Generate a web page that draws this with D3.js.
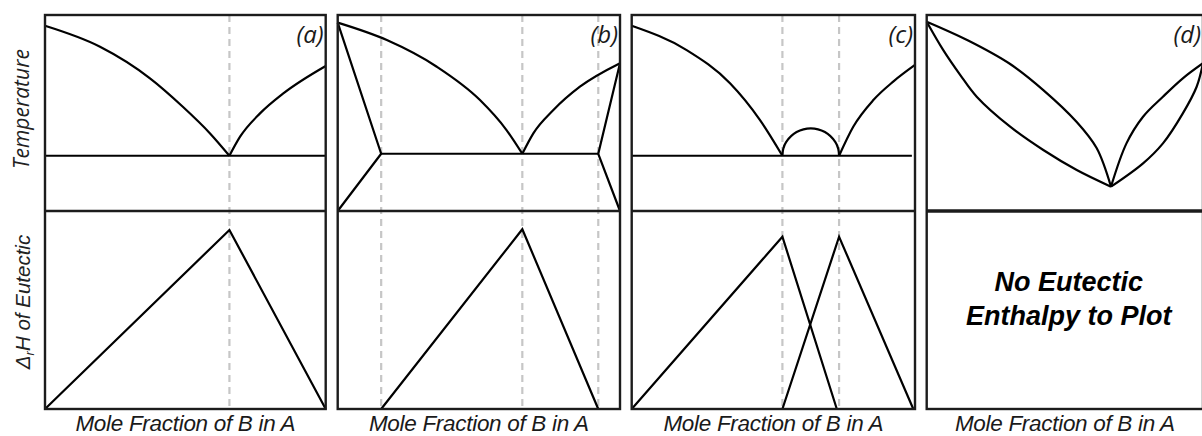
<!DOCTYPE html>
<html>
<head>
<meta charset="utf-8">
<script src="https://cdn.jsdelivr.net/npm/d3@7"></script>
<style>
  html, body { margin: 0; padding: 0; background: #fff; }
  svg { display: block; }
</style>
</head>
<body>
<div id="chart"></div>
<script>
// ---------------- DATA ----------------
// x = mole fraction of B in A (0..1), T = temperature (0..100, arbitrary), H = eutectic enthalpy (0..100, arbitrary)
const panelLabels = ["(a)", "(b)", "(c)", "(d)"];
const xAxisTitle = "Mole Fraction of B in A";
const topAxisTitle = "Temperature";
const noEnthalpyText = ["No Eutectic", "Enthalpy to Plot"];

// Panel (a): simple eutectic
const aLiquidusLeft  = [[0, 94.5], [0.196, 83.8], [0.374, 67.7], [0.491, 53.2], [0.588, 39.6], [0.657, 28.2]];
const aLiquidusRight = [[0.657, 28.2], [0.695, 37.9], [0.766, 49.8], [0.849, 60.0], [1, 74.0]];
const aSolidus       = [[0, 28.2], [1, 28.2]];
const aGuides        = [0.657];
const aEnthalpy      = [[0, 0], [0.657, 90.4], [1, 0]];

// Panel (b): eutectic with terminal solid solutions
const bLiquidusLeft  = [[0, 96.1], [0.174, 87.2], [0.351, 73.6], [0.504, 56.6], [0.598, 41.3], [0.654, 29.2]];
const bLiquidusRight = [[0.654, 29.2], [0.693, 39.6], [0.764, 51.5], [0.858, 63.4], [1, 75.4]];
const bSolidus       = [[0.154, 29.2], [0.923, 29.2]];
const bSolvusLeft    = [[0, 96.1], [0.154, 29.2], [0, 0]];
const bSolvusRight   = [[1, 75.4], [0.923, 29.2], [1, 0]];
const bGuides        = [0.154, 0.654, 0.923];
const bEnthalpy      = [[0.154, 0], [0.654, 90.8], [0.923, 0]];

// Panel (c): two eutectics around a congruent compound
const cLiquidusLeft  = [[0, 94.5], [0.194, 82.1], [0.347, 65.2], [0.453, 46.4], [0.532, 28.2]];
const cDome          = [[0.532, 28.2], [0.535, 31.8], [0.545, 35.2], [0.582, 40.3], [0.632, 42.2], [0.682, 40.3], [0.719, 35.2], [0.729, 31.8], [0.732, 28.2]];
const cLiquidusRight = [[0.732, 28.2], [0.782, 43.0], [0.853, 56.6], [0.923, 66.0], [1, 74.5]];
const cSolidus       = [[0, 28.2], [0.989, 28.2]];
const cGuides        = [0.532, 0.732];
const cEnthalpy1     = [[0, 0], [0.532, 87.0], [0.724, 0]];
const cEnthalpy2     = [[0.532, 0], [0.732, 87.0], [0.994, 0]];

// Panel (d): minimum-melting solid solution, no eutectic
const dLiquidusLeft  = [[0, 96.6], [0.150, 87.0], [0.302, 75.0], [0.422, 61.7], [0.543, 45.4], [0.615, 32.1], [0.667, 12.4]];
const dSolidusLeft   = [[0, 96.6], [0.060, 82.1], [0.121, 69.5], [0.181, 58.3], [0.302, 43.0], [0.422, 31.1], [0.543, 20.9], [0.667, 12.4]];
const dLiquidusRight = [[0.667, 12.4], [0.723, 34.5], [0.783, 48.1], [0.855, 58.3], [0.927, 67.7], [1, 75.4]];
const dSolidusRight  = [[0.667, 12.4], [0.783, 24.3], [0.855, 34.5], [0.927, 49.8], [0.977, 63.4], [1, 75.4]];

// ---------------- LAYOUT ----------------
const W = 1202, H = 436;
const panelX = [[45, 325.7], [337.7, 620], [631.7, 915], [926.7, 1203]];
const topY = 15, midY = 211, botY = 409;

const svg = d3.select("#chart").append("svg")
  .attr("width", W).attr("height", H)
  .attr("viewBox", `0 0 ${W} ${H}`);

const yT = d3.scaleLinear().domain([0, 100]).range([midY, topY]);
const yH = d3.scaleLinear().domain([0, 100]).range([botY, midY]);

const panelsData = [
  { guides: aGuides,
    top: [ {d: aLiquidusLeft, c: "mono"}, {d: aLiquidusRight, c: "mono"}, {d: aSolidus, c: "lin"} ],
    bottom: [aEnthalpy] },
  { guides: bGuides,
    top: [ {d: bLiquidusLeft, c: "mono"}, {d: bLiquidusRight, c: "mono"}, {d: bSolidus, c: "lin"},
           {d: bSolvusLeft, c: "lin"}, {d: bSolvusRight, c: "lin"} ],
    bottom: [bEnthalpy] },
  { guides: cGuides,
    top: [ {d: cLiquidusLeft, c: "mono"}, {d: cDome, c: "cr"}, {d: cLiquidusRight, c: "mono"}, {d: cSolidus, c: "lin"} ],
    bottom: [cEnthalpy1, cEnthalpy2] },
  { guides: [],
    top: [ {d: dLiquidusLeft, c: "cr"}, {d: dSolidusLeft, c: "cr"}, {d: dLiquidusRight, c: "cr"}, {d: dSolidusRight, c: "cr"} ],
    bottom: [], text: noEnthalpyText }
];

const curves = { mono: d3.curveMonotoneX, lin: d3.curveLinear, cr: d3.curveCatmullRom.alpha(0.5) };
const frameColor = "#1c1c1c";

panelsData.forEach((p, i) => {
  const [L, R] = panelX[i];
  const x = d3.scaleLinear().domain([0, 1]).range([L, R]);
  const g = svg.append("g");

  // dashed guides
  g.selectAll("line.guide").data(p.guides).join("line")
    .attr("class", "guide")
    .attr("x1", d => x(d)).attr("x2", d => x(d))
    .attr("y1", topY).attr("y2", botY)
    .attr("stroke", "#c6c6c6").attr("stroke-width", 2.2)
    .attr("stroke-dasharray", "7,5");

  // top phase diagram lines
  p.top.forEach(s => {
    g.append("path")
      .attr("d", d3.line().x(d => x(d[0])).y(d => yT(d[1])).curve(curves[s.c])(s.d))
      .attr("fill", "none").attr("stroke", "#000").attr("stroke-width", 2.2)
      .attr("stroke-linejoin", "round");
  });

  // bottom enthalpy lines
  p.bottom.forEach(s => {
    g.append("path")
      .attr("d", d3.line().x(d => x(d[0])).y(d => yH(d[1]))(s))
      .attr("fill", "none").attr("stroke", "#000").attr("stroke-width", 2.2)
      .attr("stroke-linejoin", "miter");
  });

  // frames
  g.append("rect").attr("x", L).attr("y", topY).attr("width", R - L).attr("height", botY - topY)
    .attr("fill", "none").attr("stroke", frameColor).attr("stroke-width", 2.4);
  g.append("line").attr("x1", L).attr("x2", R).attr("y1", midY).attr("y2", midY)
    .attr("stroke", frameColor).attr("stroke-width", i === 3 ? 3.4 : 2.4);

  // panel label
  g.append("text").attr("x", R - 2).attr("y", 43)
    .attr("text-anchor", "end")
    .attr("font-family", "'Open Sans', sans-serif").attr("font-style", "italic")
    .attr("font-size", 24).attr("fill", "#1a1a1a")
    .text(panelLabels[i]);

  // x-axis title
  g.append("text").attr("x", (L + R) / 2).attr("y", 431)
    .attr("text-anchor", "middle")
    .attr("font-family", "'Liberation Sans', Arial, sans-serif").attr("font-style", "italic")
    .attr("font-size", 22.5).attr("fill", "#1a1a1a")
    .attr("letter-spacing", "-0.3")
    .text(xAxisTitle);

  if (p.text) {
    const t = g.append("text")
      .attr("text-anchor", "middle")
      .attr("font-family", "'Liberation Sans', Arial, sans-serif")
      .attr("font-style", "italic").attr("font-weight", "bold")
      .attr("font-size", 27).attr("fill", "#000");
    t.selectAll("tspan").data(p.text).join("tspan")
      .attr("x", (L + R) / 2 + 4)
      .attr("y", (d, k) => 291 + k * 34)
      .text(d => d);
  }
});

// y-axis titles
svg.append("text")
  .attr("transform", `translate(29,109) rotate(-90)`)
  .attr("text-anchor", "middle")
  .attr("font-family", "'Open Sans', sans-serif").attr("font-style", "italic")
  .attr("font-size", 21).attr("fill", "#222")
  .text(topAxisTitle);

const yl = svg.append("text")
  .attr("transform", `translate(30,302) rotate(-90)`)
  .attr("text-anchor", "middle")
  .attr("font-family", "'Liberation Sans', Arial, sans-serif").attr("font-style", "italic")
  .attr("font-size", 20.5).attr("fill", "#222");
yl.append("tspan").text("Δ");
yl.append("tspan").attr("font-size", 13).attr("dy", 4).text("r");
yl.append("tspan").attr("dy", -4).text("H of Eutectic");
</script>
</body>
</html>
